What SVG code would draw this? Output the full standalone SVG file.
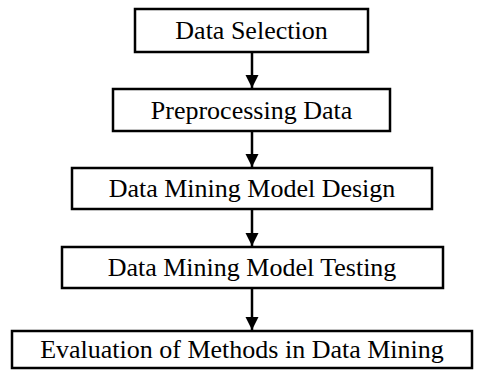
<svg xmlns="http://www.w3.org/2000/svg" width="482" height="376" viewBox="0 0 482 376">
  <defs>
    <marker id="arrow" viewBox="0 0 10 10" refX="10" refY="5" markerWidth="13" markerHeight="14" markerUnits="userSpaceOnUse" orient="auto">
      <path d="M0,0 L10,5 L0,10 Z" fill="#000"/>
    </marker>
    <style>
      .box { fill: #fff; stroke: #000; stroke-width: 2.5; }
      .label { font-family: "Liberation Serif", "Times New Roman", serif; font-size: 26px; fill: #000; text-anchor: middle; }
      .link { stroke: #000; stroke-width: 2.5; fill: none; marker-end: url(#arrow); }
    </style>
  </defs>
  <rect width="482" height="376" fill="#fff"/>

  <g id="connectors">
    <line class="link" x1="252" y1="52" x2="252" y2="88"/>
    <line class="link" x1="252" y1="131" x2="252" y2="167"/>
    <line class="link" x1="252" y1="209" x2="252" y2="246"/>
    <line class="link" x1="252" y1="288" x2="252" y2="330"/>
  </g>

  <g id="data-selection">
    <rect class="box" x="135" y="9" width="233" height="43"/>
    <text class="label" x="251.5" y="39">Data Selection</text>
  </g>
  <g id="preprocessing-data">
    <rect class="box" x="113" y="89" width="277" height="42"/>
    <text class="label" x="251.5" y="119">Preprocessing Data</text>
  </g>
  <g id="model-design">
    <rect class="box" x="72" y="168" width="360" height="41"/>
    <text class="label" x="252" y="197">Data Mining Model Design</text>
  </g>
  <g id="model-testing">
    <rect class="box" x="62" y="247" width="381" height="41"/>
    <text class="label" x="252" y="276">Data Mining Model Testing</text>
  </g>
  <g id="evaluation">
    <rect class="box" x="12" y="331" width="460" height="37"/>
    <text class="label" x="242" y="358">Evaluation of Methods in Data Mining</text>
  </g>
</svg>
